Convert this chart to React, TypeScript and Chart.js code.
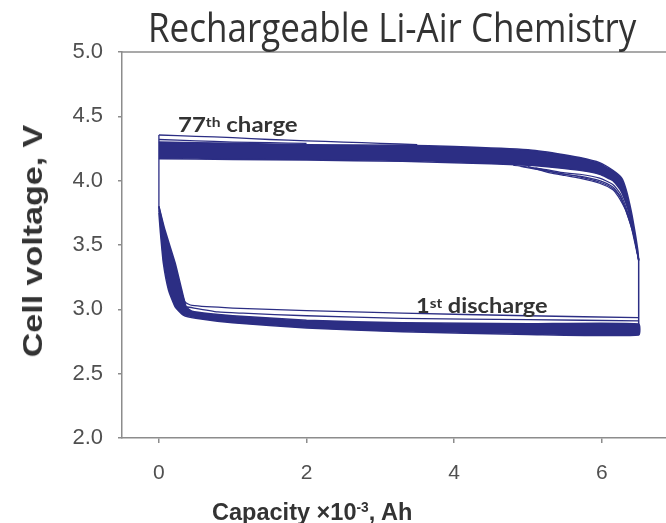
import React, { useEffect, useLayoutEffect, useRef } from 'react';
import { Chart, registerables } from 'chart.js';

Chart.register(...registerables);

type P = [number, number];

// ---------- text ----------
const titleText = 'Rechargeable Li-Air Chemistry';
const yAxisTitle = 'Cell voltage, V';
const xAxisTitleMain = 'Capacity ×10';
const xAxisTitleSup = '-3';
const xAxisTitleEnd = ', Ah';

// ---------- ticks ----------
const xTicks = [0, 2, 4, 6];
const yTicks = [2.0, 2.5, 3.0, 3.5, 4.0, 4.5, 5.0];

// ---------- charge curves (capacity ×10^-3 Ah, voltage V) ----------
const chargeBandUpper: P[] = [
  [0, 4.3], [1, 4.29], [2, 4.28], [3.3, 4.275], [4, 4.265], [5, 4.24], [5.4, 4.21],
  [5.7, 4.18], [5.97, 4.14], [6.15, 4.08], [6.27, 4.02], [6.33, 3.93], [6.4, 3.76],
  [6.45, 3.6], [6.49, 3.45], [6.5, 3.38],
];
const chargeBandLower: P[] = [
  [0, 4.17], [1, 4.165], [2, 4.16], [3.3, 4.15], [4, 4.14], [5, 4.12], [5.4, 4.1],
  [5.7, 4.08], [5.97, 4.05], [6.15, 4.0], [6.25, 3.93], [6.33, 3.82], [6.4, 3.68],
  [6.45, 3.55], [6.49, 3.42], [6.5, 3.38],
];
const charge77th: P[] = [
  [0, 4.355], [0.5, 4.345], [1, 4.335], [1.5, 4.32], [2, 4.31], [2.5, 4.3], [3, 4.29], [3.5, 4.28],
];
const chargeEarly: P[] = [
  [0, 4.32], [0.5, 4.31], [1, 4.3], [1.5, 4.295], [2, 4.29],
];
const chargeFanA: P[] = [
  [4.8, 4.12], [5.2, 4.09], [5.5, 4.06], [5.7, 4.05], [5.97, 4.02], [6.15, 3.97],
  [6.25, 3.9], [6.33, 3.79], [6.4, 3.66], [6.45, 3.53], [6.5, 3.38],
];
const chargeFanB: P[] = [
  [4.9, 4.11], [5.3, 4.07], [5.5, 4.05], [5.7, 4.035], [5.97, 4.0], [6.15, 3.95],
  [6.25, 3.88], [6.32, 3.78], [6.4, 3.64], [6.45, 3.51], [6.5, 3.38],
];
const chargeFanC: P[] = [
  [5.0, 4.11], [5.3, 4.06], [5.5, 4.04], [5.7, 4.02], [5.97, 3.98], [6.15, 3.93],
  [6.22, 3.88], [6.28, 3.82], [6.33, 3.76], [6.42, 3.6], [6.48, 3.45], [6.5, 3.38],
];
const chargeFanD: P[] = [
  [5.1, 4.1], [5.4, 4.06], [5.7, 4.03], [5.97, 3.99], [6.15, 3.94], [6.24, 3.88],
  [6.3, 3.81], [6.37, 3.71], [6.44, 3.57], [6.5, 3.38],
];

// ---------- discharge curves ----------
const dischargeBandUpper: P[] = [
  [0, 3.8], [0.08, 3.62], [0.22, 3.36], [0.31, 3.15], [0.37, 3.02], [0.45, 2.985],
  [0.7, 2.965], [1, 2.95], [2, 2.915], [3.3, 2.895], [5, 2.888], [6.5, 2.886],
];
const dischargeBandLower: P[] = [
  [0, 3.75], [0.02, 3.6], [0.06, 3.36], [0.13, 3.15], [0.22, 3.02], [0.33, 2.955],
  [0.5, 2.93], [1, 2.895], [2, 2.855], [3.3, 2.825], [5, 2.805], [6.5, 2.8],
];
const discharge1st: P[] = [
  [0, 3.8], [0.1, 3.55], [0.25, 3.25], [0.35, 3.06], [0.45, 3.03], [1, 3.01],
  [2, 2.99], [3.3, 2.97], [5, 2.95], [6.5, 2.935],
];
const discharge2nd: P[] = [
  [0.37, 3.02], [0.8, 2.98], [1.14, 2.97], [2, 2.95], [3.3, 2.93], [5, 2.92], [6.5, 2.91],
];

// ---------- vertical steps between half-cycles ----------
const stepAtStart: P[] = [[0, 4.355], [0, 3.75]];
const stepAtEnd: P[] = [[6.5, 2.8], [6.5, 3.4]];

const LINE = '#2c2e84';
const AXIS = '#8c8c8c';
const FONT_SANS = "'Liberation Sans', Arial, sans-serif";

const toXY = (pts: P[]) => pts.map(([x, y]) => ({ x, y }));
const band = (upper: P[], lower: P[]) => toXY([...upper, ...[...lower].reverse()]);

function lineDs(pts: P[], width: number, tension = 0.2) {
  return {
    data: toXY(pts),
    showLine: true,
    borderColor: LINE,
    borderWidth: width,
    pointRadius: 0,
    tension,
    fill: false,
  };
}
function bandDs(upper: P[], lower: P[]) {
  return {
    data: band(upper, lower),
    showLine: true,
    borderColor: LINE,
    backgroundColor: LINE,
    borderWidth: 1.5,
    pointRadius: 0,
    tension: 0.15,
    fill: 'shape',
  };
}

const topBorder = {
  id: 'topBorder',
  afterDraw(chart: any) {
    const { ctx, chartArea } = chart;
    ctx.save();
    ctx.strokeStyle = AXIS;
    ctx.lineWidth = 1.5;
    ctx.beginPath();
    ctx.moveTo(chartArea.left, chartArea.top);
    ctx.lineTo(chartArea.right, chartArea.top);
    ctx.stroke();
    ctx.restore();
  },
};

function useFit(ref: any, target: number, mk: (k: number) => string) {
  useLayoutEffect(() => {
    const fit = () => {
      const el = ref.current as HTMLElement | null;
      if (!el) return;
      el.style.transform = mk(1);
      const w = el.offsetWidth;
      if (w > 0) el.style.transform = mk(target / w);
    };
    fit();
    const d: any = document;
    if (d.fonts && d.fonts.ready) d.fonts.ready.then(fit);
  });
}

function FitText(props: { left: number; top: number; width: number; style: any; children: any }) {
  const ref = useRef<HTMLDivElement>(null);
  useFit(ref, props.width, (k) => `scaleX(${k})`);
  return (
    <div
      ref={ref}
      style={{
        position: 'absolute',
        left: props.left,
        top: props.top,
        whiteSpace: 'nowrap',
        transformOrigin: '0 0',
        ...props.style,
      }}
    >
      {props.children}
    </div>
  );
}

function VerticalText(props: { cx: number; cy: number; length: number; style: any; children: any }) {
  const ref = useRef<HTMLDivElement>(null);
  useFit(ref, props.length, (k) => `translate(-50%, -50%) rotate(-90deg) scaleX(${k})`);
  return (
    <div
      ref={ref}
      style={{
        position: 'absolute',
        left: props.cx,
        top: props.cy,
        whiteSpace: 'nowrap',
        transformOrigin: '50% 50%',
        ...props.style,
      }}
    >
      {props.children}
    </div>
  );
}

export default function App() {
  const canvasRef = useRef<HTMLCanvasElement>(null);

  useEffect(() => {
    if (!canvasRef.current) return;
    const chart = new Chart(canvasRef.current, {
      type: 'scatter',
      data: {
        datasets: [
          bandDs(chargeBandUpper, chargeBandLower),
          bandDs(dischargeBandUpper, dischargeBandLower),
          lineDs(charge77th, 1.3),
          lineDs(chargeEarly, 1.3),
          lineDs(chargeFanA, 1.2),
          lineDs(chargeFanB, 1.2),
          lineDs(chargeFanC, 1.2),
          lineDs(chargeFanD, 1.2),
          lineDs(discharge1st, 1.3),
          lineDs(discharge2nd, 1.3),
          lineDs(stepAtStart, 1.3, 0),
          lineDs(stepAtEnd, 1.5, 0),
        ] as any,
      },
      options: {
        animation: false,
        responsive: false,
        maintainAspectRatio: false,
        devicePixelRatio: 1,
        layout: { padding: { top: 52, right: 0, left: 0, bottom: 0 } },
        plugins: {
          legend: { display: false },
          tooltip: { enabled: false },
        },
        scales: {
          x: {
            type: 'linear',
            min: -0.5,
            max: 6.87,
            afterFit: (s: any) => {
              s.height = 85;
            },
            afterBuildTicks: (s: any) => {
              s.ticks = xTicks.map((v) => ({ value: v }));
            },
            grid: {
              display: true,
              drawOnChartArea: false,
              drawTicks: true,
              tickLength: 5,
              color: AXIS,
              lineWidth: 1.5,
            },
            border: { display: true, color: AXIS, width: 1.5 },
            ticks: {
              color: '#505050',
              font: { family: FONT_SANS, size: 21 },
              padding: 18,
              callback: (v: any) => String(v),
            },
          },
          y: {
            type: 'linear',
            min: 2,
            max: 5,
            afterFit: (s: any) => {
              s.width = 122;
            },
            afterBuildTicks: (s: any) => {
              s.ticks = yTicks.map((v) => ({ value: v }));
            },
            grid: {
              display: true,
              drawOnChartArea: false,
              drawTicks: true,
              tickLength: 4,
              color: AXIS,
              lineWidth: 1.5,
            },
            border: { display: true, color: AXIS, width: 1.5 },
            ticks: {
              color: '#505050',
              font: { family: FONT_SANS, size: 22 },
              padding: 15,
              callback: (v: any) => Number(v).toFixed(1),
            },
          },
        },
      } as any,
      plugins: [topBorder],
    });
    return () => chart.destroy();
  }, []);

  return (
    <div style={{ position: 'absolute', left: 0, top: 0, width: 666, height: 523, background: '#fff', overflow: 'hidden' }}>
      <canvas ref={canvasRef} width={666} height={523} style={{ position: 'absolute', left: 0, top: 0, width: 666, height: 523 }} />
      <FitText
        left={148}
        top={7}
        width={488}
        style={{ fontFamily: "'Open Sans', sans-serif", fontSize: 40, lineHeight: '40px', color: '#333333', fontWeight: 400 }}
      >
        {titleText}
      </FitText>
      <VerticalText
        cx={33}
        cy={241}
        length={232}
        style={{ fontFamily: FONT_SANS, fontSize: 28, lineHeight: '28px', color: '#333333', fontWeight: 700 }}
      >
        {yAxisTitle}
      </VerticalText>
      <FitText
        left={212}
        top={495}
        width={200}
        style={{ fontFamily: FONT_SANS, fontSize: 24, lineHeight: '24px', color: '#333333', fontWeight: 700 }}
      >
        {xAxisTitleMain}
        <span style={{ fontSize: 14, verticalAlign: 8 }}>{xAxisTitleSup}</span>
        {xAxisTitleEnd}
      </FitText>
      <FitText
        left={178}
        top={111.6}
        width={120}
        style={{ fontFamily: 'Lato, sans-serif', fontSize: 20, lineHeight: '20px', color: '#333333', fontWeight: 700 }}
      >
        77<span style={{ fontSize: 13, verticalAlign: 5 }}>th</span> charge
      </FitText>
      <FitText
        left={416}
        top={293}
        width={132}
        style={{ fontFamily: 'Lato, sans-serif', fontSize: 20, lineHeight: '20px', color: '#333333', fontWeight: 700 }}
      >
        1<span style={{ fontSize: 13, verticalAlign: 5 }}>st</span> discharge
      </FitText>
    </div>
  );
}
